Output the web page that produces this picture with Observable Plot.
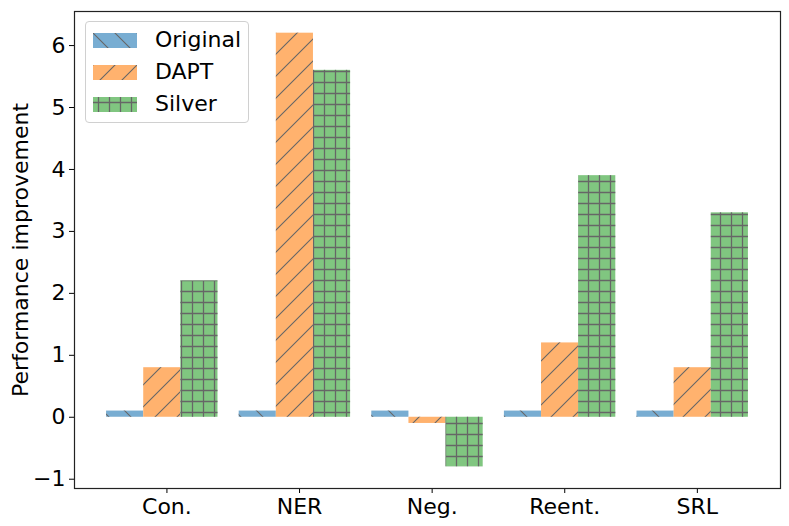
<!DOCTYPE html>
<html>
<head>
<meta charset="utf-8">
<script src="https://cdn.jsdelivr.net/npm/d3@7"></script>
<script src="https://cdn.jsdelivr.net/npm/@observablehq/plot@0.6"></script>
<style>
  html, body { margin: 0; padding: 0; background: #fff; }
  #wrap { position: relative; width: 789px; height: 526px; font-family: "DejaVu Sans", sans-serif; }
  #legend { position: absolute; left: 85px; top: 21px; width: 164px; height: 102px; box-sizing: border-box;
            border: 1px solid #d0d0d0; border-radius: 4px; background: rgba(255,255,255,0.85); }
  .lrow { position: absolute; left: 7px; height: 24px; display: flex; align-items: center; }
  .lrow svg { display: block; }
  .lrow span { margin-left: 18px; font-size: 22px; color: #000; line-height: 24px; }
</style>
</head>
<body>
<svg width="0" height="0" style="position:absolute">
  <defs>
    <pattern id="h-orig" patternUnits="userSpaceOnUse" width="22" height="22">
      <path d="M-1,-1 L23,23 M-3,19 L3,25 M19,-3 L25,3" stroke="#666" stroke-width="1.1" fill="none"/>
    </pattern>
    <pattern id="h-dapt" patternUnits="userSpaceOnUse" width="22" height="22">
      <path d="M-1,23 L23,-1 M-3,3 L3,-3 M19,25 L25,19" stroke="#666" stroke-width="1.1" fill="none"/>
    </pattern>
    <pattern id="h-silver" patternUnits="userSpaceOnUse" width="11" height="11">
      <path d="M0,5.5 H11 M5.5,0 V11" stroke="#666" stroke-width="1.3" fill="none"/>
    </pattern>
  </defs>
</svg>
<div id="wrap"></div>
<script>
const categories = ["Con.", "NER", "Neg.", "Reent.", "SRL"];
const seriesNames = ["Original", "DAPT", "Silver"];
const original = [0.1, 0.1, 0.1, 0.1, 0.1];
const dapt = [0.8, 6.2, -0.1, 1.2, 0.8];
const silver = [2.2, 5.6, -0.8, 3.9, 3.3];
const yTicks = [-1, 0, 1, 2, 3, 4, 5, 6];
const yLabel = "Performance improvement";

const colors = ["#78add2", "#ffb26e", "#80c680"];
const hatches = ["url(#h-orig)", "url(#h-dapt)", "url(#h-silver)"];
const W = 0.28;
const tickShift = 0.035;

const values = [original, dapt, silver];
const rows = [];
values.forEach((arr, k) => {
  arr.forEach((v, i) => {
    const c = i + (k - 1) * W;
    rows.push({series: seriesNames[k], k, cat: categories[i], x1: c - W / 2, x2: c + W / 2, y: v});
  });
});

const xMin = -1.5 * W, xMax = categories.length - 1 + 1.5 * W;
const xPad = (xMax - xMin) * 0.05;
const yMin = d3.min(rows, d => Math.min(0, d.y)), yMax = d3.max(rows, d => d.y);
const yPad = (yMax - yMin) * 0.05;

const marks = [];
seriesNames.forEach((s, k) => {
  const sub = rows.filter(d => d.k === k);
  marks.push(Plot.rectY(sub, {x1: "x1", x2: "x2", y1: 0, y2: "y", fill: colors[k]}));
  marks.push(Plot.rectY(sub, {x1: "x1", x2: "x2", y1: 0, y2: "y", fill: hatches[k]}));
});

const chart = Plot.plot({
  width: 789,
  height: 526,
  marginLeft: 74,
  marginRight: 9,
  marginTop: 11,
  marginBottom: 38,
  style: {fontFamily: "DejaVu Sans, sans-serif", fontSize: "22px", color: "#000", background: "#fff"},
  x: {domain: [xMin - xPad, xMax + xPad]},
  y: {domain: [yMin - yPad, yMax + yPad]},
  marks: [
    ...marks,
    Plot.axisY({ticks: yTicks, tickSize: 5, tickPadding: 4, fontSize: 22, tickFormat: d => d < 0 ? "\u2212" + Math.abs(d) : String(d),
      label: yLabel, labelAnchor: "center", labelArrow: "none", labelOffset: 62}),
    Plot.axisX({ticks: categories.map((c, i) => i + tickShift), tickSize: 5, tickPadding: 5, fontSize: 22,
      tickFormat: d => categories[Math.round(d)], label: null}),
    Plot.frame({stroke: "#222", strokeWidth: 1.2})
  ]
});
document.getElementById("wrap").appendChild(chart);

// legend
const legend = document.createElement("div");
legend.id = "legend";
seriesNames.forEach((s, k) => {
  const row = document.createElement("div");
  row.className = "lrow";
  row.style.top = (6 + k * 32) + "px";
  row.innerHTML = `<svg width="44" height="15"><rect width="44" height="15" fill="${colors[k]}"/><rect width="44" height="15" fill="${hatches[k]}"/></svg><span>${s}</span>`;
  legend.appendChild(row);
});
document.getElementById("wrap").appendChild(legend);
</script>
</body>
</html>
